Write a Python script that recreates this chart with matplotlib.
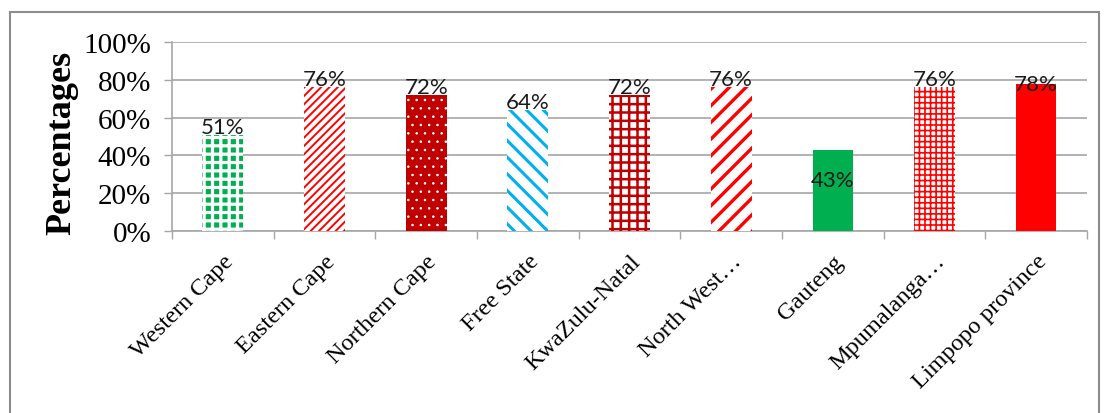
import matplotlib
matplotlib.use('Agg')
import matplotlib.pyplot as plt
from matplotlib.patches import Rectangle

provinces = ['Western Cape', 'Eastern Cape', 'Northern Cape', 'Free State', 'KwaZulu-Natal',
             'North West\u2026', 'Gauteng', 'Mpumalanga\u2026', 'Limpopo province']
values = [51, 76, 72, 64, 72, 76, 43, 76, 78]
yticks = [0, 20, 40, 60, 80, 100]

# fill styles per bar: (face, hatch colour, hatch, hatch linewidth)
styles = [
    ('#00B050', 'white', '++', 2.3),
    ('white', '#FF0000', '////', 1.4),
    ('#C00000', 'white', '..', 0.6),
    ('white', '#00B0F0', '\\\\', 2.2),
    ('white', '#C00000', '++', 1.8),
    ('white', '#FF0000', '//', 2.4),
    ('#00B050', '#00B050', '', 1.0),
    ('white', '#FF0000', '+++', 1.2),
    ('#FF0000', '#FF0000', '', 1.0),
]

fig = plt.figure(figsize=(11.09, 4.14), dpi=100, facecolor='w')
ax = fig.add_axes([172 / 1109, 1 - 232 / 414, (1087 - 172) / 1109, (232 - 43) / 414])

x = list(range(len(provinces)))
for i in x:
    face, hc, hatch, hlw = styles[i]
    with plt.rc_context({'hatch.linewidth': hlw}):
        ax.bar(i, values[i], width=0.4, facecolor=face, edgecolor=hc, hatch=hatch,
               linewidth=0, zorder=3)

for i in x:
    v = values[i]
    if provinces[i] == 'Gauteng':
        ax.text(i, v * 0.63, '%d%%' % v, ha='center', va='center', fontsize=16,
                family='Lato', color='#1a1a1a', zorder=4)
    elif provinces[i] == 'Limpopo province':
        ax.text(i, v, '%d%%' % v, ha='center', va='center', fontsize=16,
                family='Lato', color='#1a1a1a', zorder=4)
    else:
        ax.annotate('%d%%' % v, (i, v), xytext=(0, -1.5), textcoords='offset points',
                    ha='center', va='bottom', fontsize=16, family='Lato',
                    color='#1a1a1a', zorder=4)

ax.set_xlim(-0.5, len(provinces) - 0.5)
ax.set_ylim(0, 100)
ax.set_yticks(yticks)
ax.set_yticklabels(['%d%%' % t for t in yticks], family='Liberation Serif', fontsize=21)
ax.yaxis.grid(True, color='#A6A6A6', linewidth=1.2, zorder=0)
ax.tick_params(axis='y', length=6, width=1, color='#A6A6A6', pad=9)

ax.set_xticks([i - 0.5 for i in range(len(provinces) + 1)], minor=False)
ax.set_xticklabels([''] * (len(provinces) + 1))
ax.set_xticks(x, minor=True)
ax.set_xticklabels(provinces, minor=True, rotation=45, ha='right', rotation_mode='anchor',
                   family='Liberation Serif', fontsize=17.5)
ax.tick_params(axis='x', which='major', length=6, width=1, color='#A6A6A6')
ax.tick_params(axis='x', which='minor', length=0, pad=14)

for s in ['top', 'right']:
    ax.spines[s].set_visible(False)
for s in ['left', 'bottom']:
    ax.spines[s].set_color('#A6A6A6')
    ax.spines[s].set_linewidth(1.2)

fig.text(62 / 1109, 1 - 143 / 414, 'Percentages', rotation=90, ha='center', va='center',
         family='Liberation Serif', fontweight='bold', fontsize=26)

fig.patches.append(Rectangle((10 / 1109, -0.05), 1089 / 1109, 1.05 - 13 / 414,
                             transform=fig.transFigure, fill=False,
                             edgecolor='#8C8C8C', linewidth=1.5))

fig.savefig('out.png', dpi=100)
plt.close()
